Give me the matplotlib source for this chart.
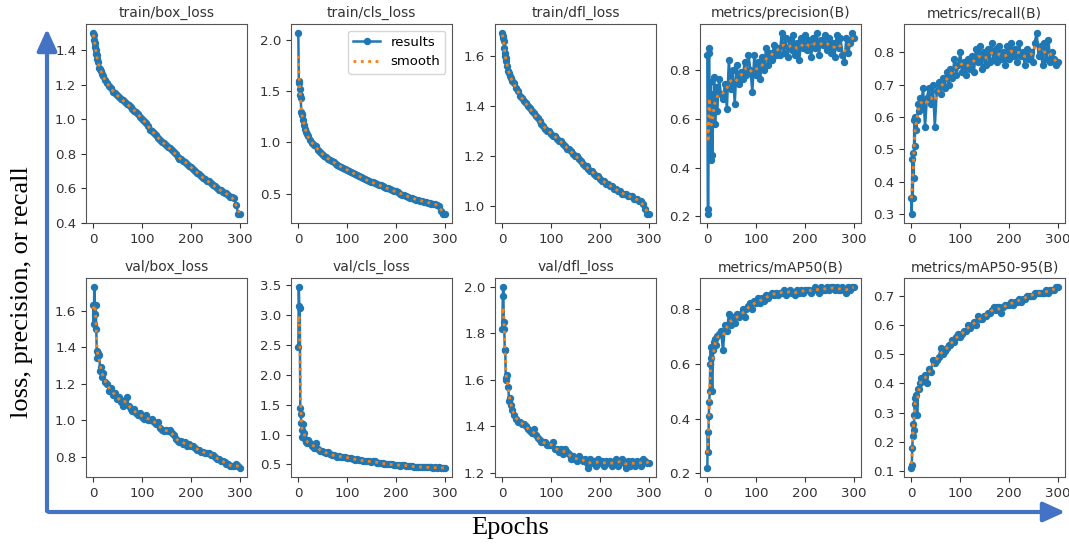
import numpy as np
import matplotlib
matplotlib.use("Agg")
import matplotlib.pyplot as plt
from matplotlib.patches import FancyArrowPatch
from matplotlib.ticker import MultipleLocator

epochs = [0, 1, 2, 3, 4, 5, 6, 7, 8, 10, 12, 14, 16, 18, 20, 24, 28, 32, 36, 40,
          44, 48, 52, 56, 60, 64, 68, 72, 76, 80, 84, 88, 92, 96, 100, 104, 108, 112, 116, 120,
          124, 128, 132, 136, 140, 144, 148, 152, 156, 160, 164, 168, 172, 176, 180, 184, 188, 192, 196, 200,
          204, 208, 212, 216, 220, 224, 228, 232, 236, 240, 244, 248, 252, 256, 260, 264, 268, 272, 276, 280,
          284, 288, 292, 296, 299]

train_box = [1.50, 1.49, 1.46, 1.44, 1.42, 1.40, 1.38, 1.37, 1.35, 1.33, 1.30, 1.29, 1.28, 1.26, 1.25, 1.23, 1.21, 1.19, 1.18, 1.16,
             1.15, 1.14, 1.13, 1.12, 1.11, 1.10, 1.09, 1.08, 1.07, 1.06, 1.05, 1.04, 1.03, 1.01, 1.00, 0.99, 0.98, 0.96, 0.94, 0.93,
             0.92, 0.91, 0.89, 0.88, 0.87, 0.86, 0.85, 0.84, 0.83, 0.82, 0.81, 0.80, 0.78, 0.77, 0.77, 0.76, 0.75, 0.74, 0.73, 0.72,
             0.71, 0.70, 0.69, 0.68, 0.67, 0.66, 0.65, 0.64, 0.64, 0.63, 0.62, 0.61, 0.60, 0.59, 0.59, 0.58, 0.57, 0.57, 0.56, 0.55,
             0.55, 0.54, 0.50, 0.45, 0.45]
train_cls = [2.07, 1.60, 1.58, 1.52, 1.46, 1.43, 1.30, 1.28, 1.27, 1.22, 1.17, 1.13, 1.10, 1.08, 1.06, 1.02, 0.99, 0.97, 0.96, 0.93,
             0.91, 0.89, 0.87, 0.86, 0.84, 0.83, 0.82, 0.81, 0.79, 0.78, 0.77, 0.76, 0.75, 0.74, 0.73, 0.72, 0.71, 0.70, 0.69, 0.68,
             0.67, 0.66, 0.65, 0.64, 0.63, 0.62, 0.61, 0.61, 0.60, 0.59, 0.58, 0.58, 0.57, 0.56, 0.55, 0.55, 0.54, 0.53, 0.52, 0.52,
             0.51, 0.50, 0.49, 0.49, 0.48, 0.47, 0.46, 0.46, 0.45, 0.44, 0.44, 0.43, 0.43, 0.42, 0.42, 0.41, 0.41, 0.40, 0.40, 0.40,
             0.39, 0.38, 0.33, 0.30, 0.30]
train_dfl = [1.69, 1.68, 1.67, 1.66, 1.63, 1.61, 1.60, 1.59, 1.58, 1.56, 1.54, 1.53, 1.52, 1.51, 1.50, 1.49, 1.47, 1.46, 1.44, 1.43,
             1.42, 1.41, 1.40, 1.39, 1.38, 1.37, 1.36, 1.35, 1.34, 1.33, 1.32, 1.31, 1.30, 1.30, 1.29, 1.28, 1.28, 1.27, 1.26, 1.26,
             1.25, 1.24, 1.23, 1.23, 1.22, 1.21, 1.20, 1.20, 1.19, 1.18, 1.17, 1.16, 1.16, 1.15, 1.14, 1.14, 1.13, 1.12, 1.12, 1.11,
             1.10, 1.10, 1.09, 1.09, 1.08, 1.08, 1.07, 1.07, 1.06, 1.06, 1.05, 1.05, 1.05, 1.04, 1.04, 1.04, 1.03, 1.03, 1.03, 1.02,
             1.02, 1.01, 0.99, 0.97, 0.97]
precision = [0.86, 0.23, 0.21, 0.87, 0.89, 0.45, 0.75, 0.43, 0.70, 0.45, 0.62, 0.77, 0.58, 0.73, 0.63, 0.76, 0.70, 0.68, 0.74, 0.64,
             0.84, 0.72, 0.80, 0.66, 0.82, 0.74, 0.79, 0.76, 0.83, 0.78, 0.86, 0.80, 0.71, 0.86, 0.78, 0.83, 0.76, 0.85, 0.80, 0.89,
             0.82, 0.87, 0.84, 0.90, 0.86, 0.89, 0.86, 0.95, 0.87, 0.93, 0.85, 0.92, 0.88, 0.94, 0.86, 0.91, 0.84, 0.93, 0.89, 0.94,
             0.88, 0.92, 0.85, 0.93, 0.89, 0.95, 0.86, 0.92, 0.90, 0.94, 0.88, 0.93, 0.87, 0.91, 0.85, 0.94, 0.89, 0.93, 0.86, 0.83,
             0.93, 0.87, 0.91, 0.95, 0.93]
recall = [0.35, 0.30, 0.47, 0.35, 0.49, 0.41, 0.59, 0.51, 0.60, 0.56, 0.59, 0.64, 0.62, 0.66, 0.63, 0.69, 0.57, 0.66, 0.69, 0.64,
          0.70, 0.57, 0.68, 0.71, 0.67, 0.72, 0.69, 0.74, 0.70, 0.75, 0.72, 0.78, 0.73, 0.76, 0.80, 0.74, 0.77, 0.73, 0.78, 0.75,
          0.79, 0.74, 0.81, 0.77, 0.82, 0.75, 0.80, 0.76, 0.81, 0.77, 0.83, 0.78, 0.81, 0.77, 0.82, 0.78, 0.80, 0.76, 0.82, 0.78,
          0.83, 0.79, 0.81, 0.77, 0.83, 0.79, 0.80, 0.76, 0.81, 0.78, 0.80, 0.77, 0.83, 0.86, 0.79, 0.82, 0.76, 0.83, 0.78, 0.84,
          0.77, 0.80, 0.78, 0.76, 0.77]
val_box = [1.63, 1.53, 1.73, 1.63, 1.58, 1.63, 1.50, 1.38, 1.34, 1.37, 1.36, 1.27, 1.29, 1.24, 1.26, 1.21, 1.20, 1.16, 1.18, 1.14,
           1.15, 1.12, 1.13, 1.10, 1.08, 1.11, 1.13, 1.08, 1.06, 1.05, 1.06, 1.04, 1.03, 1.04, 1.02, 1.01, 1.03, 1.00, 1.00, 1.01,
           0.99, 0.98, 0.99, 0.96, 0.95, 0.94, 0.95, 0.94, 0.95, 0.93, 0.92, 0.90, 0.89, 0.88, 0.89, 0.87, 0.88, 0.86, 0.87, 0.86,
           0.86, 0.85, 0.84, 0.84, 0.83, 0.83, 0.82, 0.82, 0.82, 0.81, 0.81, 0.80, 0.79, 0.79, 0.78, 0.78, 0.77, 0.76, 0.76, 0.75,
           0.75, 0.75, 0.76, 0.75, 0.74]
val_cls = [2.47, 3.47, 3.15, 3.12, 1.45, 1.35, 1.20, 1.08, 0.96, 1.18, 1.02, 0.92, 0.88, 0.86, 0.90, 0.85, 0.80, 0.78, 0.85, 0.76,
           0.73, 0.72, 0.70, 0.69, 0.70, 0.67, 0.66, 0.65, 0.64, 0.63, 0.64, 0.62, 0.63, 0.62, 0.61, 0.61, 0.60, 0.59, 0.58, 0.59,
           0.57, 0.57, 0.56, 0.56, 0.55, 0.55, 0.54, 0.55, 0.55, 0.53, 0.53, 0.52, 0.52, 0.51, 0.51, 0.50, 0.50, 0.50, 0.49, 0.49,
           0.49, 0.48, 0.49, 0.49, 0.48, 0.47, 0.47, 0.47, 0.46, 0.46, 0.46, 0.46, 0.45, 0.45, 0.45, 0.45, 0.45, 0.45, 0.44, 0.45,
           0.44, 0.45, 0.44, 0.44, 0.44]
val_dfl = [1.82, 1.96, 2.00, 1.85, 1.82, 1.73, 1.73, 1.61, 1.60, 1.62, 1.57, 1.51, 1.52, 1.49, 1.47, 1.45, 1.43, 1.42, 1.42, 1.41,
           1.41, 1.40, 1.39, 1.38, 1.37, 1.39, 1.36, 1.35, 1.34, 1.33, 1.33, 1.33, 1.32, 1.32, 1.32, 1.33, 1.30, 1.30, 1.29, 1.30,
           1.28, 1.30, 1.29, 1.28, 1.26, 1.27, 1.26, 1.25, 1.27, 1.26, 1.25, 1.26, 1.24, 1.22, 1.26, 1.24, 1.25, 1.23, 1.26, 1.24,
           1.25, 1.23, 1.25, 1.24, 1.25, 1.23, 1.24, 1.26, 1.23, 1.25, 1.26, 1.24, 1.22, 1.25, 1.23, 1.25, 1.24, 1.23, 1.25, 1.24,
           1.23, 1.26, 1.25, 1.24, 1.24]
map50 = [0.22, 0.35, 0.28, 0.41, 0.46, 0.50, 0.60, 0.66, 0.62, 0.50, 0.65, 0.68, 0.69, 0.67, 0.70, 0.71, 0.72, 0.65, 0.74, 0.72,
         0.78, 0.74, 0.77, 0.75, 0.78, 0.77, 0.78, 0.80, 0.77, 0.80, 0.81, 0.82, 0.80, 0.83, 0.82, 0.84, 0.82, 0.84, 0.83, 0.85,
         0.84, 0.85, 0.86, 0.85, 0.86, 0.85, 0.86, 0.86, 0.87, 0.85, 0.86, 0.87, 0.86, 0.86, 0.85, 0.87, 0.86, 0.87, 0.86, 0.87,
         0.87, 0.87, 0.86, 0.87, 0.88, 0.87, 0.86, 0.88, 0.87, 0.87, 0.88, 0.87, 0.88, 0.88, 0.87, 0.88, 0.87, 0.87, 0.88, 0.87,
         0.86, 0.88, 0.87, 0.88, 0.88]
map50_95 = [0.11, 0.12, 0.18, 0.22, 0.26, 0.24, 0.29, 0.35, 0.33, 0.36, 0.29, 0.38, 0.38, 0.40, 0.42, 0.41, 0.43, 0.40, 0.45, 0.44,
            0.48, 0.47, 0.48, 0.49, 0.52, 0.50, 0.51, 0.52, 0.53, 0.53, 0.55, 0.54, 0.56, 0.57, 0.56, 0.57, 0.58, 0.58, 0.60, 0.59,
            0.60, 0.61, 0.60, 0.63, 0.62, 0.62, 0.63, 0.63, 0.64, 0.64, 0.65, 0.66, 0.65, 0.66, 0.66, 0.64, 0.66, 0.67, 0.67, 0.67,
            0.68, 0.67, 0.68, 0.68, 0.69, 0.68, 0.69, 0.69, 0.70, 0.70, 0.70, 0.70, 0.71, 0.71, 0.71, 0.71, 0.71, 0.71, 0.72, 0.71,
            0.72, 0.72, 0.72, 0.73, 0.73]

titles = ["train/box_loss", "train/cls_loss", "train/dfl_loss", "metrics/precision(B)", "metrics/recall(B)",
          "val/box_loss", "val/cls_loss", "val/dfl_loss", "metrics/mAP50(B)", "metrics/mAP50-95(B)"]
series = [train_box, train_cls, train_dfl, precision, recall,
          val_box, val_cls, val_dfl, map50, map50_95]
ystep = [0.2, 0.5, 0.2, 0.2, 0.1, 0.2, 0.5, 0.2, 0.2, 0.1]


def smooth(y, sigma=1.3):
    # gaussian smoothing like gaussian_filter1d
    r = int(4 * sigma + 0.5)
    k = np.exp(-0.5 * (np.arange(-r, r + 1) / sigma) ** 2)
    k /= k.sum()
    yp = np.pad(np.asarray(y, float), r, mode="symmetric")
    return np.convolve(yp, k, mode="valid")


W, H = 1069, 545
fig = plt.figure(figsize=(W / 100, H / 100), dpi=100)

lefts = [86, 291, 495, 700, 904]
tops = [24, 278]
aw, ah = 161, 199

x = np.array(epochs)
for i, (t, y) in enumerate(zip(titles, series)):
    r, c = divmod(i, 5)
    ax = fig.add_axes([lefts[c] / W, 1 - (tops[r] + ah) / H, aw / W, ah / H])
    ax.plot(x, y, marker="o", ms=4.3, lw=1.8, color="C0", label="results")
    ax.plot(x, smooth(y), ":", lw=2, color="C1", label="smooth")
    ax.set_title(t, fontsize=10, color="#333333", pad=5)
    ax.set_xticks([0, 100, 200, 300])
    ax.yaxis.set_major_locator(MultipleLocator(ystep[i]))
    ax.tick_params(labelsize=9.6, colors="#333333")
    for s in ax.spines.values():
        s.set_color("#555555")
    if i == 1:
        ax.legend(fontsize=9.5, loc="upper right")

blue = "#4472C4"
fig.add_artist(FancyArrowPatch((47 / W, 1 - 514 / H), (47 / W, 1 - 26 / H), transform=fig.transFigure,
                               arrowstyle="-|>,head_length=1.1,head_width=0.5", mutation_scale=12,
                               color=blue, lw=3))
fig.add_artist(FancyArrowPatch((46 / W, 1 - 512 / H), (1068 / W, 1 - 512 / H), transform=fig.transFigure,
                               arrowstyle="-|>,head_length=1.1,head_width=0.5", mutation_scale=12,
                               color=blue, lw=3))

fig.text(22 / W, 1 - 292 / H, "loss, precision, or recall", rotation=90, ha="center", va="center",
         fontsize=19, family="Liberation Serif")
fig.text(510 / W, 1 - 528 / H, "Epochs", ha="center", va="center", fontsize=19, family="Liberation Serif")

fig.savefig("out.png", dpi=100)
